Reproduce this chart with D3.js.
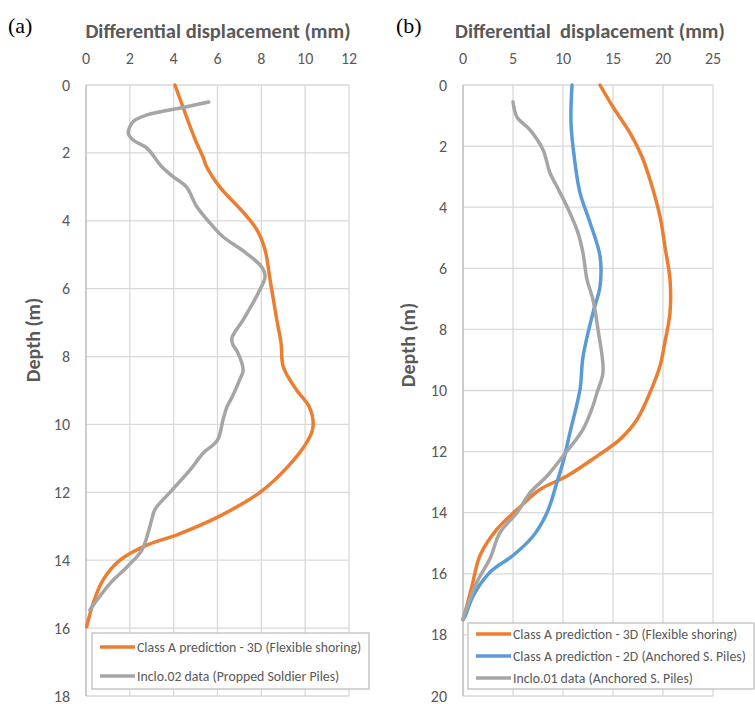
<!DOCTYPE html>
<html>
<head>
<meta charset="utf-8">
<script src="https://cdn.jsdelivr.net/npm/d3@7"></script>
<style>
  body { margin: 0; background: #fff; }
  text { font-family: Carlito, Calibri, Lato, "Liberation Sans", sans-serif; }
</style>
</head>
<body>
<svg width="755" height="704"></svg>
<script>
var svg = d3.select("svg");

// panel (a) : Inclo.02, propped soldier piles
var a3dDisp  = [4.06, 4.99, 5.34, 5.5, 6.1, 7.2, 7.8, 8.17, 8.4, 8.7, 8.9, 9.0, 9.6, 10.2, 10.36, 10.1, 9.2, 7.94, 6.1, 4.15, 2.8, 1.55, 0.78, 0.33, 0.03];
var a3dDepth = [0, 1.62, 2.12, 2.4, 3.0, 3.77, 4.27, 4.86, 5.74, 6.9, 7.6, 8.3, 8.98, 9.5, 10.07, 10.5, 11.25, 12.0, 12.7, 13.25, 13.55, 14.0, 14.58, 15.26, 15.96];

var aIncDisp  = [5.6, 4.6, 2.78, 2.15, 1.93, 2.15, 2.78, 3.45, 3.97, 4.58, 5.05, 5.8, 6.25, 7.3, 8.0, 8.17, 7.85, 7.17, 6.66, 6.7, 6.9, 7.17, 7.0, 6.66, 6.43, 6.25, 6.0, 5.34, 4.75, 3.83, 3.15, 3.0, 2.83, 2.55, 1.87, 1.1, 0.18];
var aIncDepth = [0.5, 0.64, 0.88, 1.08, 1.42, 1.62, 1.86, 2.4, 2.7, 3.0, 3.58, 4.17, 4.47, 4.95, 5.35, 5.64, 6.14, 6.92, 7.45, 7.65, 7.85, 8.4, 8.7, 9.2, 9.48, 9.87, 10.46, 10.85, 11.34, 12.0, 12.5, 12.8, 13.2, 13.7, 14.2, 14.68, 15.46];

// panel (b) : Inclo.01, anchored soldier piles
var b3dDisp  = [13.7, 15.0, 16.7, 17.9, 18.7, 19.7, 20.2, 20.7, 20.7, 20.2, 19.7, 18.7, 17.4, 15.7, 13.4, 10.4, 7.7, 5.4, 3.4, 1.7, 0.9, 0.2, 0];
var b3dDepth = [0, 0.72, 1.57, 2.35, 3.1, 4.3, 5.3, 6.37, 7.45, 8.4, 9.2, 10.07, 10.95, 11.6, 12.15, 12.8, 13.24, 13.9, 14.54, 15.4, 16.4, 17.27, 17.5];

var b2dDisp  = [10.9, 10.8, 11.2, 11.7, 12.7, 13.7, 13.7, 13.0, 12.0, 11.7, 10.7, 10.0, 9.4, 8.4, 7.0, 5.0, 2.7, 1.0, 0.2, 0];
var b2dDepth = [0, 1.25, 2.55, 3.53, 4.5, 5.6, 6.6, 7.45, 8.9, 9.97, 11.37, 12.35, 13.0, 14.0, 14.77, 15.4, 15.95, 16.73, 17.4, 17.5];

var bIncDisp  = [5.0, 5.4, 6.7, 8.0, 8.7, 9.4, 10.4, 11.5, 12.0, 12.4, 13.0, 13.5, 14.0, 13.4, 13.0, 12.0, 10.0, 8.4, 6.7, 5.4, 3.7, 2.7, 1.4, 0.2, 0];
var bIncDepth = [0.55, 1.05, 1.47, 2.12, 2.88, 3.33, 3.98, 4.84, 5.5, 6.37, 7.03, 8.0, 9.4, 10.07, 10.5, 11.27, 12.15, 12.8, 13.35, 14.0, 14.65, 15.5, 16.27, 17.27, 17.5];

var aXTicks = [0, 2, 4, 6, 8, 10, 12];
var aYTicks = [0, 2, 4, 6, 8, 10, 12, 14, 16, 18];
var bXTicks = [0, 5, 10, 15, 20, 25];
var bYTicks = [0, 2, 4, 6, 8, 10, 12, 14, 16, 18, 20];

var orange = "#ED7D31", blue = "#5B9BD5", grey = "#A5A5A5";
var txtCol = "#595959", gridCol = "#D9D9D9";

function zip(xs, ys) {
  return xs.map(function(v, i) { return [v, ys[i]]; });
}

function drawPanel(p) {
  var g = svg.append("g");
  var x = d3.scaleLinear().domain(p.xDom).range([p.left, p.right]);
  var y = d3.scaleLinear().domain(p.yDom).range([p.top, p.bottom]);

  // grid
  g.selectAll(".vg").data(p.xTicks).enter().append("line")
      .attr("x1", function(d) { return x(d); }).attr("x2", function(d) { return x(d); })
      .attr("y1", p.top).attr("y2", p.bottom)
      .attr("stroke", gridCol).attr("stroke-width", 1.3);
  g.selectAll(".hg").data(p.yTicks).enter().append("line")
      .attr("y1", function(d) { return y(d); }).attr("y2", function(d) { return y(d); })
      .attr("x1", p.left).attr("x2", p.right)
      .attr("stroke", gridCol).attr("stroke-width", 1.3);
  g.append("line")
      .attr("x1", p.left).attr("x2", p.left).attr("y1", p.top).attr("y2", p.bottom)
      .attr("stroke", "#BFBFBF").attr("stroke-width", 1.3);

  // tick labels
  g.selectAll(".xl").data(p.xTicks).enter().append("text")
      .attr("x", function(d) { return x(d); }).attr("y", 58)
      .attr("text-anchor", "middle").attr("dominant-baseline", "central")
      .attr("font-size", 16).attr("fill", txtCol)
      .text(function(d) { return d; });
  g.selectAll(".yl").data(p.yTicks).enter().append("text")
      .attr("x", p.left - 16).attr("y", function(d) { return y(d); })
      .attr("text-anchor", "end").attr("dominant-baseline", "central")
      .attr("font-size", 16).attr("fill", txtCol)
      .text(function(d) { return d; });

  // titles
  g.append("text")
      .attr("x", p.titleX).attr("y", 31)
      .attr("text-anchor", "middle").attr("dominant-baseline", "central")
      .attr("font-size", 20.5).attr("font-weight", "bold").attr("fill", txtCol)
      .attr("xml:space", "preserve")
      .text(p.title);
  g.append("text")
      .attr("transform", "translate(" + p.ylabX + "," + p.ylabY + ") rotate(-90)")
      .attr("text-anchor", "middle").attr("dominant-baseline", "central")
      .attr("font-size", 20).attr("font-weight", "bold").attr("fill", txtCol)
      .text("Depth (m)");
  g.append("text")
      .attr("x", p.tagX).attr("y", 25)
      .attr("dominant-baseline", "central")
      .style("font-family", "'Liberation Serif', 'Times New Roman', serif")
      .attr("font-size", 22).attr("fill", "#000")
      .text(p.tag);

  // curves
  var line = d3.line()
      .x(function(d) { return x(d[0]); })
      .y(function(d) { return y(d[1]); })
      .curve(d3.curveCatmullRom.alpha(0.5));
  p.series.forEach(function(s) {
    g.append("path")
        .datum(s.pts)
        .attr("fill", "none")
        .attr("stroke", s.color)
        .attr("stroke-width", 3.5)
        .attr("stroke-linecap", "round")
        .attr("d", line);
  });

  // legend
  var lg = g.append("g");
  lg.append("rect")
      .attr("x", p.leg.x).attr("y", p.leg.y)
      .attr("width", p.leg.w).attr("height", p.leg.h)
      .attr("fill", "#fff").attr("stroke", "#BFBFBF").attr("stroke-width", 1.3);
  p.series.forEach(function(s, i) {
    var ly = p.leg.y + p.leg.first + i * p.leg.step;
    lg.append("line")
        .attr("x1", p.leg.x + 8).attr("x2", p.leg.x + 43)
        .attr("y1", ly).attr("y2", ly)
        .attr("stroke", s.color).attr("stroke-width", 3.5);
    lg.append("text")
        .attr("x", p.leg.x + 45).attr("y", ly)
        .attr("dominant-baseline", "central")
        .attr("font-size", 13.8).attr("fill", txtCol)
        .text(s.name);
  });
}

drawPanel({
  xDom: [0, 12], yDom: [0, 18],
  left: 86, right: 349, top: 85, bottom: 696,
  xTicks: aXTicks, yTicks: aYTicks,
  title: "Differential displacement (mm)", titleX: 218,
  ylabX: 33, ylabY: 340,
  tag: "(a)", tagX: 8,
  series: [
    { name: "Class A prediction - 3D (Flexible shoring)", color: orange, pts: zip(a3dDisp, a3dDepth) },
    { name: "Inclo.02 data (Propped Soldier Piles)", color: grey, pts: zip(aIncDisp, aIncDepth) }
  ],
  leg: { x: 92, y: 633, w: 277, h: 56, first: 14, step: 29 }
});

drawPanel({
  xDom: [0, 25], yDom: [0, 20],
  left: 463, right: 713, top: 85, bottom: 696,
  xTicks: bXTicks, yTicks: bYTicks,
  title: "Differential  displacement (mm)", titleX: 590,
  ylabX: 408, ylabY: 345,
  tag: "(b)", tagX: 396,
  series: [
    { name: "Class A prediction - 3D (Flexible shoring)", color: orange, pts: zip(b3dDisp, b3dDepth) },
    { name: "Class A prediction - 2D (Anchored S. Piles)", color: blue, pts: zip(b2dDisp, b2dDepth) },
    { name: "Inclo.01 data (Anchored S. Piles)", color: grey, pts: zip(bIncDisp, bIncDepth) }
  ],
  leg: { x: 468, y: 623, w: 286, h: 66, first: 11, step: 22 }
});
</script>
</body>
</html>
